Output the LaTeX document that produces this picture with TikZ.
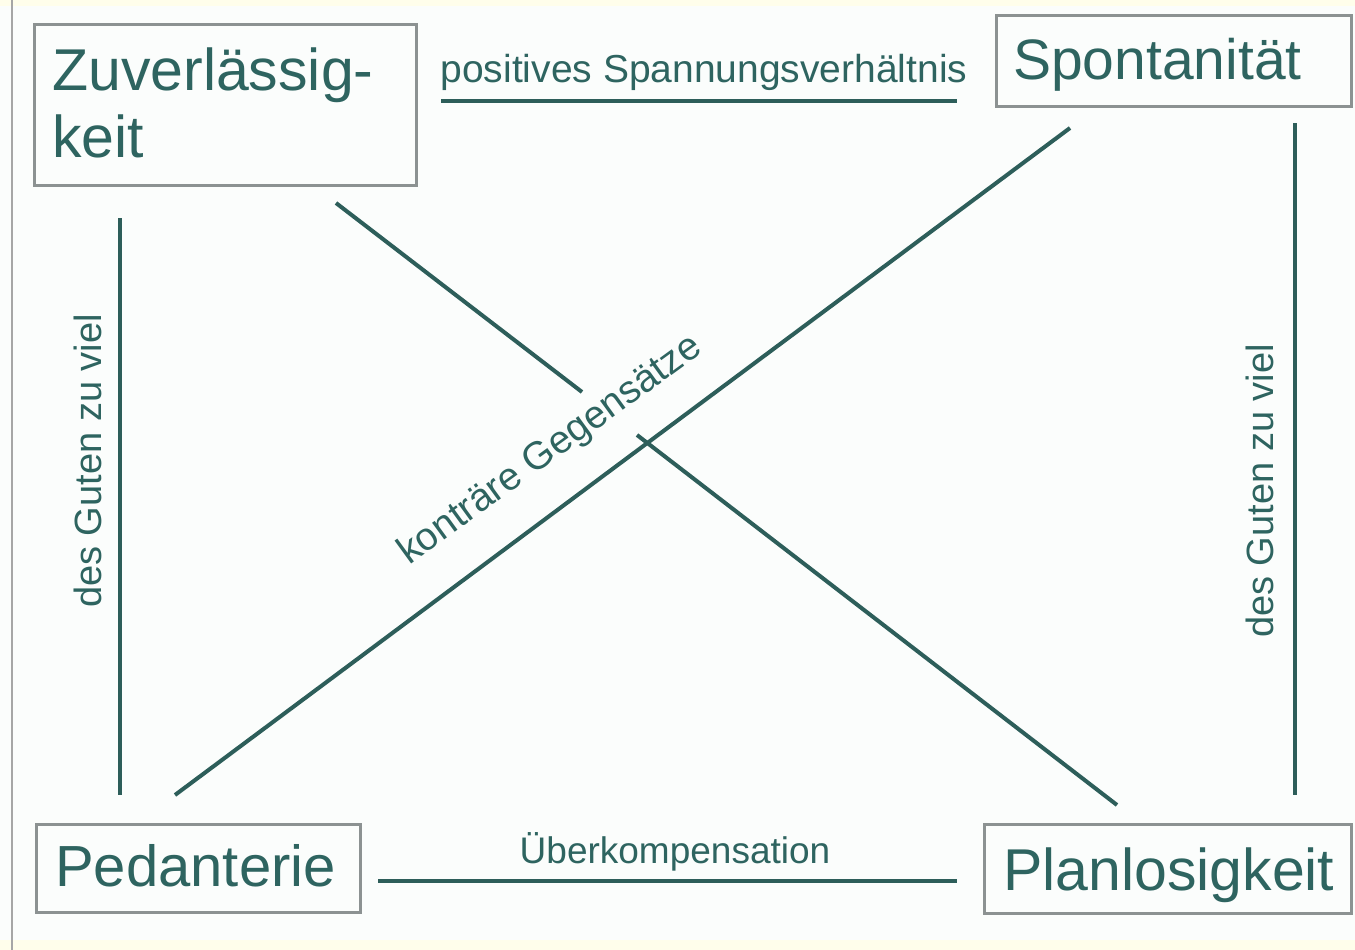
\documentclass[tikz,border=0pt]{standalone}
\usepackage{fontspec}
\setmainfont{Liberation Sans}
\definecolor{teal}{HTML}{2E6460}
\definecolor{linec}{HTML}{2D5E5A}
\definecolor{boxc}{HTML}{8C9292}
\definecolor{bgc}{HTML}{FBFDFC}
\tikzset{
  box/.style={draw=boxc, line width=3pt, inner sep=0pt, anchor=north west},
  big/.style={text=teal, font=\fontsize{59}{64}\selectfont, inner sep=0pt, anchor=base west},
  lab/.style={text=teal, font=\fontsize{38}{42}\selectfont, inner sep=0pt},
  conn/.style={draw=linec, line width=4pt}
}
\begin{document}
\begin{tikzpicture}[x=1pt,y=-1pt]
\useasboundingbox (0,0) rectangle (1355,950);
\fill[bgc] (0,0) rectangle (1355,950);
\fill[yellow!8] (0,0) rectangle (1355,6);
\fill[yellow!8] (0,940) rectangle (1355,950);
\draw[gray!70, line width=2pt] (12,0) -- (12,950);
% boxes
\node[box, minimum width=382pt, minimum height=161pt] (zuv) at (33,23) {};
\node[box, minimum width=355pt, minimum height=91pt] (spo) at (995,14) {};
\node[box, minimum width=324pt, minimum height=88pt] (ped) at (35,823) {};
\node[box, minimum width=367pt, minimum height=89pt] (pla) at (983,823) {};
% box texts
\node[big] (zuvt1) at (52,90) {Zuverlässig-};
\node[big] (zuvt2) at (52,157) {keit};
\node[big, font=\fontsize{57}{62}\selectfont] (spot) at (1013,79) {Spontanität};
\node[big, font=\fontsize{58}{62}\selectfont] (pedt) at (55,886) {Pedanterie};
\node[big] (plat) at (1003,890) {Planlosigkeit};
% connector end points
\coordinate (t1) at (441,101); \coordinate (t2) at (957,101);
\coordinate (b1) at (378,881); \coordinate (b2) at (957,881);
\coordinate (l1) at (120,218); \coordinate (l2) at (120,795);
\coordinate (r1) at (1295,123); \coordinate (r2) at (1295,795);
\coordinate (d1) at (175,795); \coordinate (d2) at (1070,128);
\coordinate (e1) at (336,203); \coordinate (e2) at (582,392);
\coordinate (e3) at (637,435); \coordinate (e4) at (1117,805);
\draw[conn] (t1) -- (t2);
\draw[conn] (b1) -- (b2);
\draw[conn] (l1) -- (l2);
\draw[conn] (r1) -- (r2);
\draw[conn] (d1) -- (d2);
\draw[conn] (e1) -- (e2);
\draw[conn] (e3) -- (e4);
% labels
\node[lab, font=\fontsize{39}{42}\selectfont, anchor=base] (pos) at (704,82) {positives Spannungsverhältnis};
\node[lab, font=\fontsize{37}{42}\selectfont, anchor=base] (ueb) at (675,863) {Überkompensation};
\node[lab, rotate=90, anchor=base] (lg) at (101,461) {des Guten zu viel};
\node[lab, rotate=90, anchor=base] (rg) at (1273,491) {des Guten zu viel};
\node[lab, font=\fontsize{39}{42}\selectfont, rotate=36, anchor=base west] (kon) at (409,566) {konträre Gegensätze};
\end{tikzpicture}
\end{document}
